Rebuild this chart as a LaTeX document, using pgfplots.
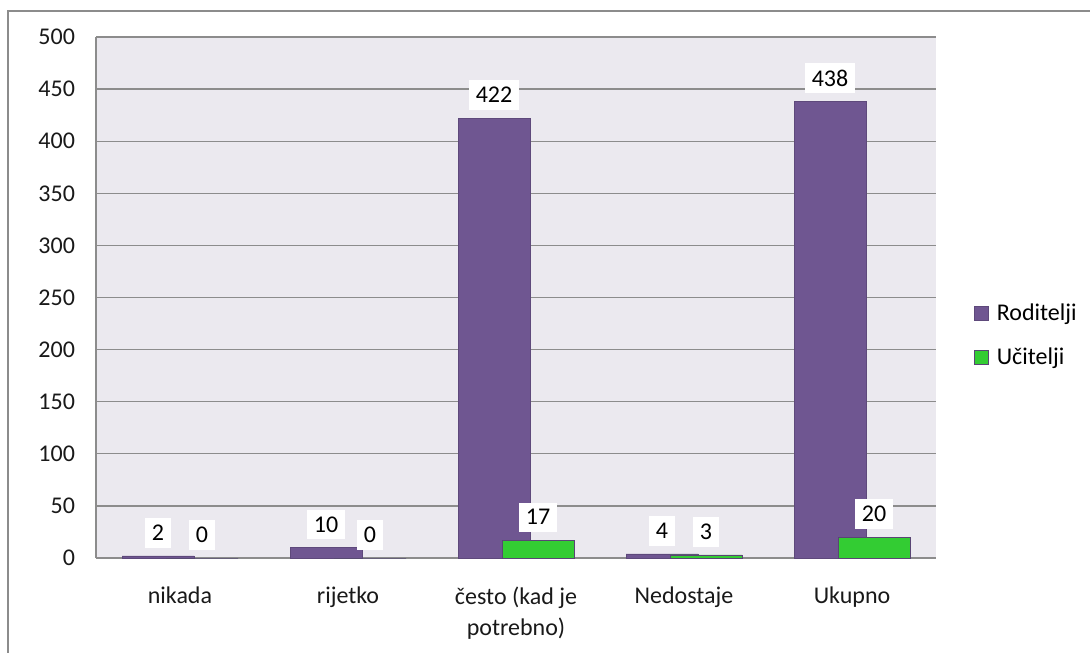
\documentclass[border=0pt]{standalone}
\usepackage{fontspec}
\setmainfont{Carlito}
\usepackage{pgfplots}
\pgfplotsset{compat=1.18}

\definecolor{rod}{HTML}{6F5691}
\definecolor{uci}{HTML}{33CC33}
\definecolor{bgc}{HTML}{EBE9EF}
\definecolor{gridc}{HTML}{8C8C8C}

\begin{document}
\begin{tikzpicture}
\useasboundingbox (0,0) rectangle (545pt,326pt);
\draw[gridc, line width=1pt] (4pt,-1pt) -- (4pt,320.5pt) -- (546pt,320.5pt);
\begin{axis}[
  at={(48pt,47pt)}, anchor=south west,
  scale only axis, width=420pt, height=260.5pt,
  font=\fontsize{12}{15.5}\selectfont,
  /pgf/number format/assume math mode=true,
  xmin=-0.5, xmax=4.5, ymin=0, ymax=500,
  ytick={0,50,...,500},
  xtick={0,1,2,3,4},
  xticklabels={nikada, rijetko, često (kad je\\potrebno), Nedostaje, Ukupno},
  xticklabel style={align=center, yshift=-11pt, text=black!90},
  yticklabel style={xshift=-7pt, text=black!90},
  major tick length=0pt,
  axis x line*=bottom, axis y line*=left,
  axis line style={gridc, line width=0.8pt, -},
  ymajorgrids, grid style={gridc, line width=0.6pt},
  axis background/.style={fill=bgc},
  nodes near coords,
  every node near coord/.append style={fill=white, inner xsep=3.5pt, inner ysep=3.5pt, yshift=4pt, text=black, font=\fontsize{12}{14}\selectfont},
  legend cell align=left,
  legend style={at={(1.045,0.427)}, anchor=west, draw=none, fill=none,
    inner sep=0pt, row sep=8pt, font=\fontsize{12}{14}\selectfont,
    nodes={inner xsep=4pt}},
  legend image code/.code={\fill[#1] (0pt,-3.5pt) rectangle (7pt,3.5pt);},
]
\addplot[ybar, bar width=36pt, bar shift=-11pt, fill=rod, draw=rod!85!black, line width=0.3pt,
  every node near coord/.append style={xshift=-11pt}]
  coordinates {(0,2) (1,10) (2,422) (3,4) (4,438)};
\addlegendentry{Roditelji}
\addplot[ybar, bar width=36pt, bar shift=11pt, fill=uci, draw=rod!80!black, line width=0.3pt,
  every node near coord/.append style={xshift=11pt}]
  coordinates {(0,0) (1,0) (2,17) (3,3) (4,20)};
\addlegendentry{Učitelji}
\end{axis}
\end{tikzpicture}
\end{document}
